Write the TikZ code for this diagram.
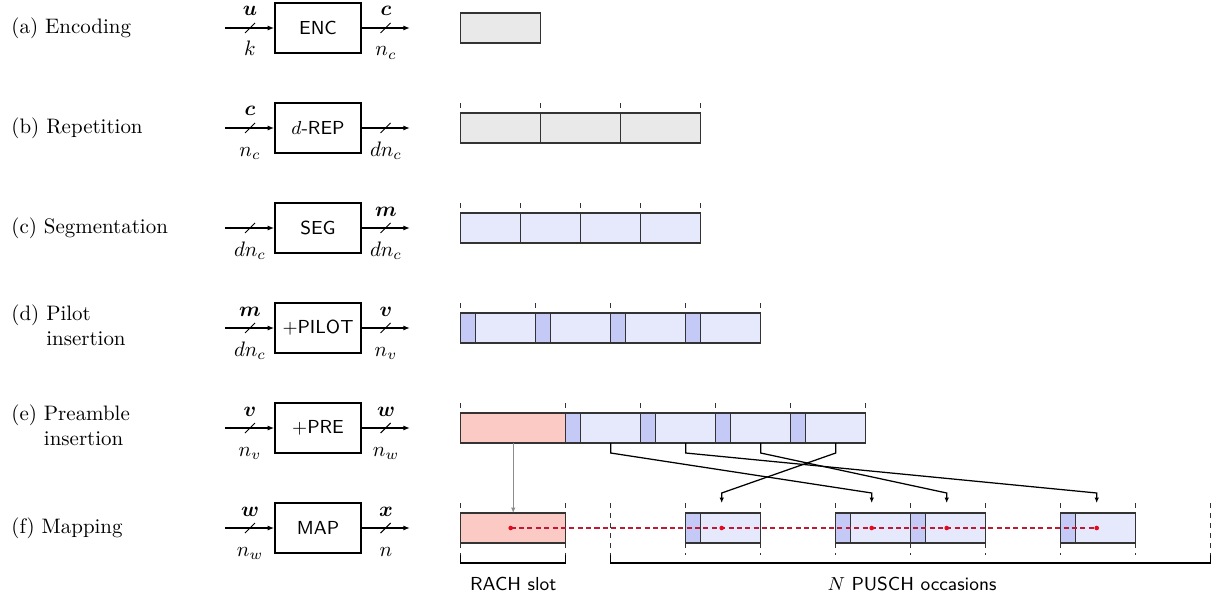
\documentclass[tikz,border=0pt]{standalone}
\usepackage{bm}
\usetikzlibrary{arrows.meta,calc}
\definecolor{barGray}{RGB}{233,233,233}
\definecolor{dataBlue}{RGB}{230,233,251}
\definecolor{pilotBlue}{RGB}{197,201,245}
\definecolor{preRed}{RGB}{252,202,196}
\definecolor{mapRed}{RGB}{190,25,55}
\definecolor{dotRed}{RGB}{225,10,30}
\newcommand\stagerow[3]{%
  \coordinate (#1in) at (225,#2);
  \coordinate (#1out) at (410,#2);
  \node[blk] (#1box) at (318,#2) {#3};
  \draw[sig] (#1in) -- (#1box.west);
  \draw[sig] (#1box.east) -- (#1out);
  \draw[slash] (250,#2) ++(-5,5) -- ++(10,-10);
  \draw[slash] (385.5,#2) ++(-5,5) -- ++(10,-10);
}
\begin{document}
\begin{tikzpicture}[x=0.4775pt,y=-0.4775pt,
  blk/.style={draw, line width=0.6pt, minimum width=41.1pt, minimum height=23.9pt, inner sep=0pt, font=\sffamily\small},
  sig/.style={line width=0.6pt, -{Latex[length=3.2pt,width=2.4pt]}},
  slash/.style={line width=0.5pt},
  lbl/.style={anchor=base, inner sep=0pt},
  rowlabel/.style={anchor=west, inner sep=0pt, align=left},
  bar/.style={draw=black!80, line width=0.6pt, inner sep=0pt, outer sep=0pt, minimum height=14.33pt, anchor=west},
  segw/.style={minimum width=#1*0.4775pt},
  tick/.style={black!80, line width=0.4pt, dash pattern=on 2.4pt off 2.4pt},
  maparr/.style={line width=0.6pt, -{Latex[length=2.6pt,width=2.2pt]}},
  grayarr/.style={black!45, line width=0.6pt, -{Latex[length=2.6pt,width=2.2pt]}},
  redline/.style={mapRed, line width=0.5pt, dash pattern=on 2.4pt off 1.6pt},
  reddot/.style={circle, fill=dotRed, inner sep=0pt, minimum size=2.2pt},
  brk/.style={line width=0.6pt}]
\useasboundingbox (0,0) rectangle (1214,601);

% ---------- row labels ----------
\node[rowlabel] (la) at (11,28) {(a) Encoding};
\node[rowlabel] (lb) at (11,128) {(b) Repetition};
\node[rowlabel] (lc) at (11,228) {(c) Segmentation};
\node[rowlabel] (ld) at (11,328) {\begin{tabular}{@{}l@{\ }l@{}}(d) & Pilot\\ & insertion\end{tabular}};
\node[rowlabel] (le) at (11,428) {\begin{tabular}{@{}l@{\ }l@{}}(e) & Preamble\\ & insertion\end{tabular}};
\node[rowlabel] (lf) at (11,528) {(f) Mapping};

% ---------- blocks ----------
\stagerow{a}{28}{ENC}
\node[lbl] (alt) at (250,16) {$\bm{u}$};
\node[lbl] (alb) at (250,56) {$k$};
\node[lbl] (art) at (386,16) {$\bm{c}$};
\node[lbl] (arb) at (386,56) {$n_c$};

\stagerow{b}{128}{$d$-REP}
\node[lbl] (blt) at (250,116) {$\bm{c}$};
\node[lbl] (blb) at (250,156) {$n_c$};
\node[lbl] (brb) at (386,156) {$dn_c$};

\stagerow{c}{228}{SEG}
\node[lbl] (clb) at (250,256) {$dn_c$};
\node[lbl] (crt) at (386,216) {$\bm{m}$};
\node[lbl] (crb) at (386,256) {$dn_c$};

\stagerow{d}{328}{$+$PILOT}
\node[lbl] (dlt) at (250,316) {$\bm{m}$};
\node[lbl] (dlb) at (250,356) {$dn_c$};
\node[lbl] (drt) at (386,316) {$\bm{v}$};
\node[lbl] (drb) at (386,356) {$n_v$};

\stagerow{e}{428}{$+$PRE}
\node[lbl] (elt) at (250,416) {$\bm{v}$};
\node[lbl] (elb) at (250,456) {$n_v$};
\node[lbl] (ert) at (386,416) {$\bm{w}$};
\node[lbl] (erb) at (386,456) {$n_w$};

\stagerow{f}{528}{MAP}
\node[lbl] (flt) at (250,516) {$\bm{w}$};
\node[lbl] (flb) at (250,556) {$n_w$};
\node[lbl] (frt) at (386,516) {$\bm{x}$};
\node[lbl] (frb) at (386,556) {$n$};

% ---------- row (a) ----------
\node[bar, fill=barGray, segw=80] (a1) at (460.7,28) {};

% ---------- row (b) ----------
\foreach \k in {0,...,3} \draw[tick] ({460.7+80*\k},103) -- ({460.7+80*\k},113);
\foreach \k in {0,1,2} \node[bar, fill=barGray, segw=80] (b\k) at ({460.7+80*\k},128) {};

% ---------- row (c) ----------
\foreach \k in {0,...,4} \draw[tick] ({460.7+60*\k},203) -- ({460.7+60*\k},213);
\foreach \k in {0,...,3} \node[bar, fill=dataBlue, segw=60] (c\k) at ({460.7+60*\k},228) {};

% ---------- row (d) ----------
\foreach \k in {0,...,4} \draw[tick] ({460.7+75*\k},303) -- ({460.7+75*\k},313);
\foreach \k in {0,...,3} {
  \node[bar, fill=dataBlue, segw=60] (dd\k) at ({475.7+75*\k},328) {};
  \node[bar, fill=pilotBlue, segw=15] (dp\k) at ({460.7+75*\k},328) {};
}

% ---------- row (e) ----------
\draw[tick] (460.7,403) -- (460.7,413);
\foreach \k in {0,...,4} \draw[tick] ({565.7+75*\k},403) -- ({565.7+75*\k},413);
\node[bar, fill=preRed, segw=105] (epre) at (460.7,428) {};
\foreach \k in {1,...,4} {
  \node[bar, fill=dataBlue, segw=60] (ed\k) at ({505.7+75*\k},428) {};
  \node[bar, fill=pilotBlue, segw=15] (ep\k) at ({490.7+75*\k},428) {};
}

% ---------- row (f) ----------
\draw[tick] (460.7,503) -- (460.7,555);
\draw[tick] (565.7,503) -- (565.7,555);
\foreach \k in {0,...,8} \draw[tick] ({610.7+75*\k},503) -- ({610.7+75*\k},555);
\node[bar, fill=preRed, segw=105] (frach) at (460.7,528) {};
\foreach \k in {1,3,4,6} {
  \node[bar, fill=dataBlue, segw=60] (fd\k) at ({625.7+75*\k},528) {};
  \node[bar, fill=pilotBlue, segw=15] (fp\k) at ({610.7+75*\k},528) {};
  \coordinate (t\k) at ({646.7+75*\k},503);
  \coordinate (dc\k) at ({646.7+75*\k},528);
}
\coordinate (dc0) at (510.7,528);
\draw[redline] (dc0) -- (dc6);
\foreach \k in {0,1,3,4,6} \node[reddot] (dot\k) at (dc\k) {};

% ---------- mapping arrows ----------
\draw[grayarr] (epre.south) -- (frach.north);
\draw[maparr] (ed1.south) -- ++(0,10) -- ($(t3)+(0,-10)$) -- (t3);
\draw[maparr] (ed2.south) -- ++(0,10) -- ($(t6)+(0,-10)$) -- (t6);
\draw[maparr] (ed3.south) -- ++(0,10) -- ($(t4)+(0,-10)$) -- (t4);
\draw[maparr] (ed4.south) -- ++(0,10) -- ($(t1)+(0,-10)$) -- (t1);

% ---------- brackets ----------
\coordinate (pL) at (610.7,555);
\coordinate (pR) at (1210.7,555);
\draw[brk] ($(frach.south west)+(0,12)$) -- ++(0,8) -| ($(frach.south east)+(0,12)$);
\draw[brk] (pL) -- ++(0,8) -| (pR);
\node[font=\sffamily\small] (rach) at (513.2,584) {RACH slot};
\node[font=\sffamily\small] (pusch) at (912,584) {$N$ PUSCH occasions};
\end{tikzpicture}
\end{document}
